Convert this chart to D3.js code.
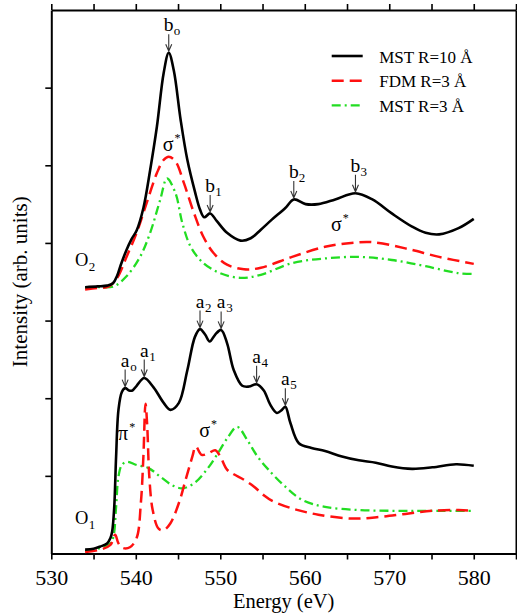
<!DOCTYPE html>
<html>
<head>
<meta charset="utf-8">
<script src="https://cdn.jsdelivr.net/npm/d3@7"></script>
<style>
  html, body { margin: 0; padding: 0; background: #fff; }
  svg text { font-family: "Liberation Serif", "Times New Roman", serif; fill: #000; }
</style>
</head>
<body>
<svg id="chart" width="517" height="616"></svg>
<script>
// O K-edge spectra: [energy (eV), intensity (arb. units)]
// Upper set (O2 site)
const o2Mst10 = [[534.0,3.43],[535.5,3.44],[536.6,3.45],[537.3,3.48],[537.8,3.58],[538.2,3.71],[538.9,3.91],[539.5,4.05],[540.1,4.16],[540.9,4.45],[541.7,4.94],[542.5,5.50],[543.3,6.19],[543.9,6.45],[544.5,6.22],[545.3,5.59],[546.1,5.07],[547.0,4.66],[547.6,4.43],[548.1,4.33],[548.8,4.38],[549.6,4.28],[550.8,4.13],[552.4,4.03],[553.6,4.06],[554.8,4.17],[556.1,4.30],[557.7,4.45],[558.7,4.56],[560.1,4.50],[561.6,4.50],[563.6,4.56],[566.0,4.64],[568.0,4.56],[570.3,4.38],[572.7,4.21],[574.3,4.13],[575.9,4.11],[578.2,4.19],[580.0,4.31]];
const o2Fdm3 = [[534.0,3.40],[535.5,3.42],[536.8,3.44],[537.8,3.55],[538.9,3.82],[540.1,4.13],[541.3,4.52],[542.5,4.90],[543.3,5.07],[543.9,5.11],[544.7,5.05],[545.7,4.77],[546.9,4.38],[548.0,4.08],[549.2,3.87],[550.8,3.72],[552.8,3.66],[554.8,3.68],[558.5,3.82],[562.4,3.95],[565.5,4.00],[568.0,4.01],[571.9,3.93],[575.9,3.82],[580.0,3.73]];
const o2Mst3 = [[534.0,3.42],[535.5,3.43],[537.4,3.44],[538.9,3.57],[540.5,3.82],[541.7,4.13],[542.9,4.56],[543.7,4.83],[544.7,4.64],[545.5,4.26],[546.5,3.95],[548.0,3.74],[550.0,3.61],[552.4,3.55],[554.8,3.59],[558.5,3.74],[562.4,3.80],[566.4,3.82],[570.3,3.78],[574.3,3.70],[578.2,3.61],[580.0,3.60]];

// Lower set (O1 site)
const o1Mst10 = [[534.0,0.05],[535.0,0.06],[535.8,0.09],[536.6,0.13],[537.0,0.20],[537.2,0.28],[537.45,0.60],[537.67,1.25],[537.95,1.85],[538.35,2.08],[538.74,2.13],[539.2,2.10],[539.6,2.10],[540.1,2.16],[541.0,2.26],[542.1,2.14],[543.3,1.94],[544.1,1.85],[545.1,1.94],[546.1,2.36],[547.0,2.79],[547.6,2.89],[548.2,2.82],[548.75,2.73],[549.4,2.82],[550.1,2.88],[550.8,2.71],[551.6,2.36],[552.6,2.16],[553.4,2.15],[554.3,2.18],[555.15,2.10],[555.9,1.92],[556.7,1.81],[557.3,1.85],[557.7,1.89],[558.3,1.68],[559.3,1.42],[560.8,1.36],[562.4,1.32],[564.4,1.25],[566.4,1.20],[568.4,1.17],[570.3,1.12],[572.7,1.09],[575.1,1.11],[577.9,1.15],[580.0,1.13]];
const o1Fdm3 = [[534.0,0.02],[535.8,0.05],[537.0,0.11],[537.56,0.24],[537.95,0.13],[538.5,0.07],[539.3,0.08],[540.1,0.20],[540.6,0.65],[540.9,1.25],[541.15,1.93],[541.35,1.65],[541.6,0.99],[542.0,0.56],[542.7,0.32],[543.3,0.30],[544.1,0.39],[545.1,0.65],[545.9,0.95],[546.7,1.25],[547.1,1.38],[547.8,1.27],[548.6,1.29],[549.4,1.33],[550.0,1.25],[550.8,1.08],[551.6,1.02],[552.8,0.95],[554.0,0.86],[555.15,0.75],[556.1,0.68],[558.5,0.58],[561.6,0.50],[565.6,0.45],[568.8,0.47],[571.9,0.51],[575.1,0.55],[578.2,0.56],[580.0,0.55]];
const o1Mst3 = [[534.0,0.03],[535.8,0.07],[537.0,0.13],[537.36,0.22],[537.67,0.60],[537.95,0.99],[538.35,1.14],[538.94,1.18],[540.1,1.14],[541.5,1.10],[542.9,0.99],[544.3,0.88],[545.5,0.84],[546.85,0.90],[548.4,1.08],[549.6,1.27],[550.8,1.48],[552.0,1.63],[553.2,1.46],[554.4,1.25],[555.7,1.08],[557.7,0.86],[559.7,0.69],[562.4,0.60],[566.4,0.56],[570.3,0.55],[574.3,0.55],[580.0,0.55]];

const energyTicks = [530, 535, 540, 545, 550, 555, 560, 565, 570, 575, 580, 585];
const energyLabels = [530, 540, 550, 560, 570, 580];
const intensityTicks = [1, 2, 3, 4, 5, 6];
const seriesNames = ["MST R=10 Å", "FDM R=3 Å", "MST R=3 Å"];

// Marked features on the MST R=10 Å curves: letter, subscript, energy
const upperFeatures = [["b","o",543.9],["b","1",548.8],["b","2",558.7],["b","3",566.0]];
const lowerFeatures = [["a","o",538.74],["a","1",541.0],["a","2",547.6],["a","3",550.1],["a","4",554.3],["a","5",557.7]];

// Free text labels: main, superscript/subscript, energy, intensity
const bandLabels = [["σ","*",543.2,5.18],["σ","*",563.1,4.15],["π","*",537.9,1.46],["σ","*",547.5,1.50]];
const siteLabels = [["O","2",532.8,3.70],["O","1",532.8,0.38]];

// ---------------------------------------------------------------
const svg = d3.select("#chart");
const plotLeft = 51.3, plotRight = 516, plotTop = 10, plotBottom = 553.5;

const x = d3.scaleLinear().domain([530, 585]).range([plotLeft, plotRight]);
const y = d3.scaleLinear().domain([0, 7]).range([plotBottom, plotTop]);

const styles = [
  { color: "#000000", width: 2.6, dash: null },
  { color: "#ff1010", width: 2.5, dash: "12,6" },
  { color: "#22dd22", width: 2.3, dash: "9,4,2,4" }
];

// Frame axes
function styleAxis(g) {
  g.select(".domain").attr("stroke", "#000").attr("stroke-width", 2);
  g.selectAll(".tick line").attr("stroke", "#000").attr("stroke-width", 1.6);
}

const bottomAxis = svg.append("g")
  .attr("transform", `translate(0,${plotBottom})`)
  .call(d3.axisBottom(x).tickValues(energyTicks).tickSize(6).tickSizeOuter(0)
    .tickFormat(d => energyLabels.includes(d) ? d : ""));
styleAxis(bottomAxis);
bottomAxis.selectAll(".tick text")
  .attr("y", 31).attr("dy", 0)
  .style("font-size", "22px")
  .style("font-family", "'Liberation Serif', serif")
  .attr("fill", "#000");

const topAxis = svg.append("g")
  .attr("transform", `translate(0,${plotTop})`)
  .call(d3.axisTop(x).tickValues(energyTicks).tickSize(6).tickSizeOuter(0).tickFormat(""));
styleAxis(topAxis);

const leftAxis = svg.append("g")
  .attr("transform", `translate(${plotLeft},0)`)
  .call(d3.axisLeft(y).tickValues(intensityTicks).tickSize(6).tickSizeOuter(0).tickFormat(""));
styleAxis(leftAxis);

const rightAxis = svg.append("g")
  .attr("transform", `translate(${plotRight},0)`)
  .call(d3.axisRight(y).tickValues(intensityTicks).tickSize(6).tickSizeOuter(0).tickFormat(""));
styleAxis(rightAxis);

// Axis titles
svg.append("text")
  .attr("x", (plotLeft + plotRight) / 2).attr("y", 607.5)
  .attr("text-anchor", "middle")
  .style("font-size", "20.5px")
  .text("Energy (eV)");

svg.append("text")
  .attr("transform", `translate(27,${(plotTop + plotBottom) / 2}) rotate(-90)`)
  .attr("text-anchor", "middle")
  .style("font-size", "21px")
  .text("Intensity (arb. units)");

// Spectra
const line = d3.line()
  .x(d => x(d[0]))
  .y(d => y(d[1]))
  .curve(d3.curveCatmullRom.alpha(0.5));

const sets = [[o2Mst10, o2Fdm3, o2Mst3], [o1Mst10, o1Fdm3, o1Mst3]];
const plot = svg.append("g");
// Draw the computed curves beneath the reference curve
sets.forEach(set => {
  [2, 1, 0].forEach(i => {
    plot.append("path")
      .datum(set[i])
      .attr("d", line)
      .attr("fill", "none")
      .attr("stroke", styles[i].color)
      .attr("stroke-width", styles[i].width)
      .attr("stroke-dasharray", styles[i].dash)
      .attr("stroke-linejoin", "round");
  });
});

// Interpolated intensity of a series at a given energy
function valueAt(series, e) {
  const i = d3.bisector(d => d[0]).left(series, e);
  if (i <= 0) return series[0][1];
  if (i >= series.length) return series[series.length - 1][1];
  const a = series[i - 1], b = series[i];
  return a[1] + (b[1] - a[1]) * (e - a[0]) / (b[0] - a[0]);
}

// Feature arrows and labels
function drawFeatures(features, series) {
  const g = svg.append("g");
  features.forEach(([letter, sub, e]) => {
    const px = x(e);
    const tip = y(valueAt(series, e)) - 1.5;
    const tail = tip - 17;
    g.append("path")
      .attr("d", `M${px},${tail}L${px},${tip}M${px - 3},${tip - 7}L${px},${tip}L${px + 3},${tip - 7}`)
      .attr("fill", "none")
      .attr("stroke", "#333")
      .attr("stroke-width", 1.1);
    g.append("text")
      .attr("x", px).attr("y", tail - 3)
      .attr("text-anchor", "middle")
      .style("font-size", "19.5px")
      .text(letter);
    g.append("text")
      .attr("x", px + 5).attr("y", tail + 1)
      .style("font-size", "13px")
      .text(sub);
  });
}
drawFeatures(upperFeatures, o2Mst10);
drawFeatures(lowerFeatures, o1Mst10);

// Band labels with superscript star
bandLabels.forEach(([main, sup, e, v]) => {
  const t = svg.append("text")
    .attr("x", x(e)).attr("y", y(v))
    .style("font-size", "20px")
    .text(main);
  const w = t.node().getComputedTextLength();
  svg.append("text")
    .attr("x", x(e) + w + 1).attr("y", y(v) - 9)
    .style("font-size", "12px")
    .text(sup);
});

// Site labels with subscript
siteLabels.forEach(([main, sub, e, v]) => {
  const t = svg.append("text")
    .attr("x", x(e)).attr("y", y(v))
    .style("font-size", "18.5px")
    .text(main);
  const w = t.node().getComputedTextLength();
  svg.append("text")
    .attr("x", x(e) + w + 0.5).attr("y", y(v) + 5)
    .style("font-size", "13px")
    .text(sub);
});

// Legend
const legend = svg.append("g").attr("transform", "translate(331.7,56)");
seriesNames.forEach((name, i) => {
  const row = legend.append("g").attr("transform", `translate(0,${i * 24.7})`);
  row.append("line")
    .attr("x1", 0).attr("x2", 31).attr("y1", 0).attr("y2", 0)
    .attr("stroke", styles[i].color)
    .attr("stroke-width", styles[i].width)
    .attr("stroke-dasharray", styles[i].dash);
  row.append("text")
    .attr("x", 47.5).attr("y", 6.5)
    .style("font-size", "17px")
    .text(name);
});
</script>
</body>
</html>
